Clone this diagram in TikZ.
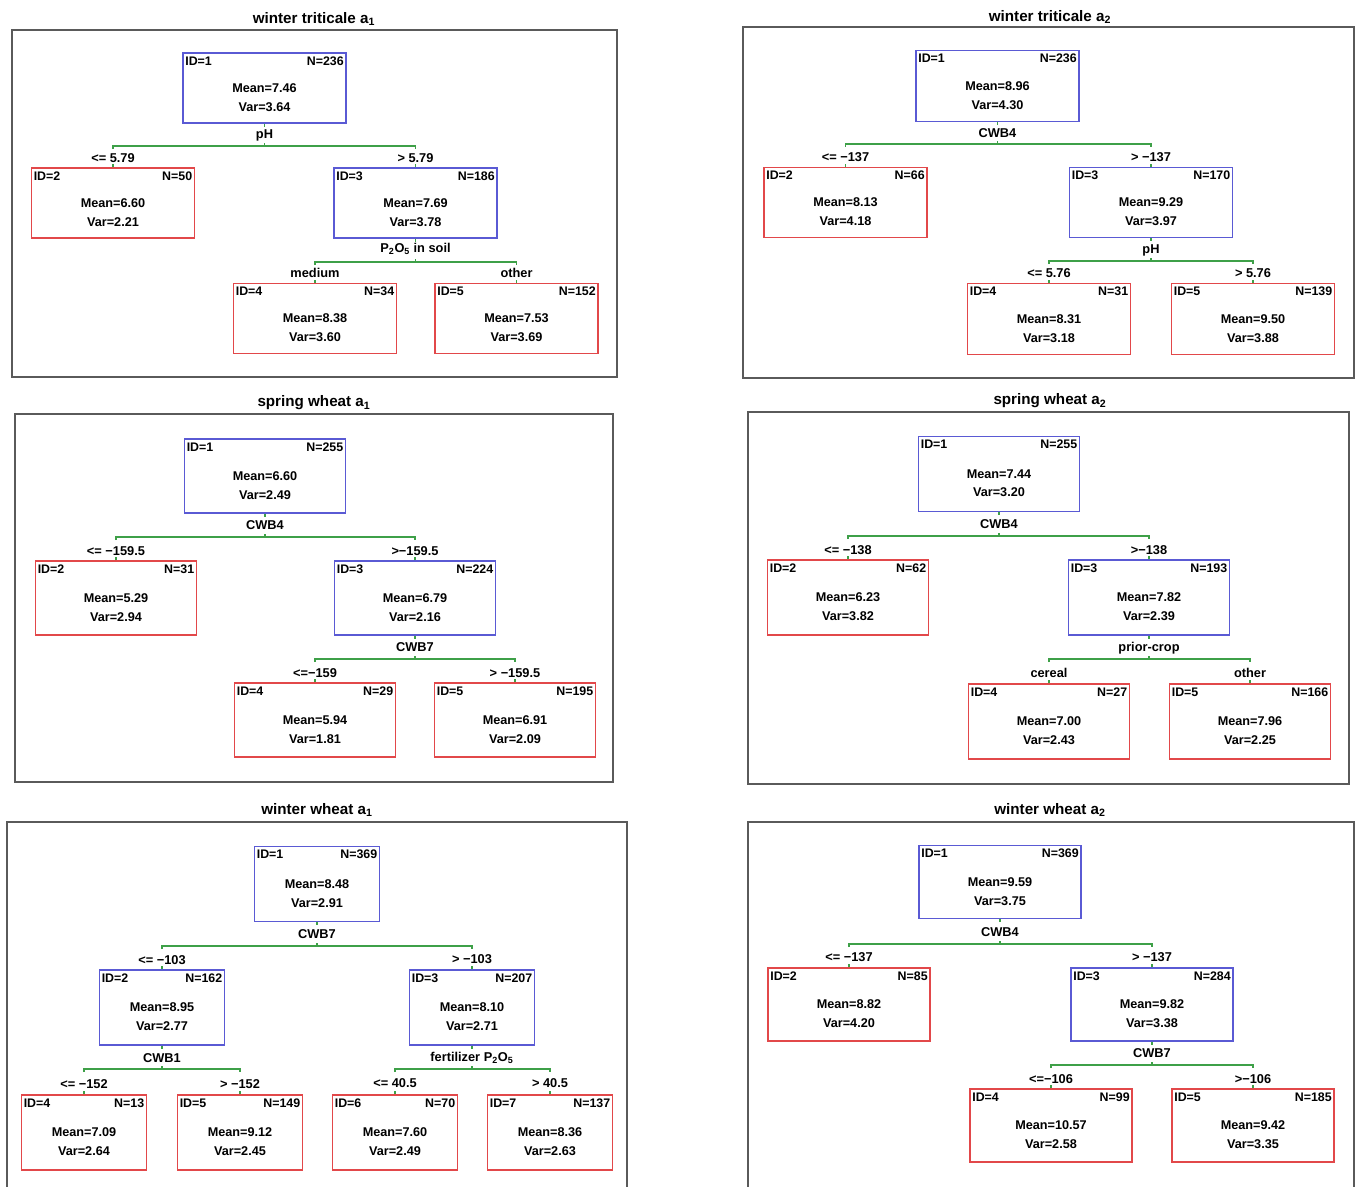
\documentclass[tikz,border=0pt]{standalone}
\usepackage{fontspec}
\setmainfont{Liberation Sans}

\definecolor{splitblue}{RGB}{90,90,212}
\definecolor{leafred}{RGB}{226,72,74}
\definecolor{edgegreen}{RGB}{62,160,72}
\definecolor{framegray}{RGB}{90,90,90}

\begin{document}
\begin{tikzpicture}[
  x=0.75pt, y=-0.75pt,
  box/.style={draw, line width=0.95pt, inner sep=0pt},
  splitbox/.style={box, draw=splitblue},
  leafbox/.style={box, draw=leafred},
  idl/.style={anchor=north west, inner xsep=2pt, inner ysep=3pt, font=\fontsize{9.3}{10}\selectfont\bfseries},
  nl/.style={idl, anchor=north east},
  stat/.style={anchor=center, align=center, inner sep=0pt, yshift=-7pt, font=\fontsize{9.5}{14}\selectfont\bfseries},
  tn/.style n args={4}{label={[idl]north west:ID=#1}, label={[nl]north east:N=#2}, label={[stat]center:{Mean=#3\\Var=#4}}},
  var/.style={inner sep=1pt, font=\fontsize{9.6}{10}\selectfont\bfseries},
  cond/.style={var},
  ttl/.style={inner sep=1pt, font=\fontsize{11.4}{12}\selectfont\bfseries},
  frame/.style={draw=framegray, line width=1.1pt},
  edge/.style={draw=edgegreen, line width=0.8pt}
]
\useasboundingbox (0,0) rectangle (1356,1186);

% winter triticale a1
\begin{scope}[box/.append style={minimum width=122.25pt, minimum height=52.5pt}]
\node[ttl] (ta1-t) at (314,19) {winter triticale a\textsubscript{1}};
\draw[frame] (12,30) rectangle (617,377);
\node[splitbox, tn={1}{236}{7.46}{3.64}] (ta1-1) at (264.5,88) {};
\node[leafbox, tn={2}{50}{6.60}{2.21}] (ta1-2) at (113,203) {};
\node[splitbox, tn={3}{186}{7.69}{3.78}] (ta1-3) at (415.5,203) {};
\node[leafbox, tn={4}{34}{8.38}{3.60}] (ta1-4) at (315,318.5) {};
\node[leafbox, tn={5}{152}{7.53}{3.69}] (ta1-5) at (516.5,318.5) {};
\node[var] (ta1-v1) at (264.5,135) {pH};
\node[var] (ta1-v3) at (415.5,249) {P\textsubscript{2}O\textsubscript{5} in soil};
\coordinate (ta1-1-bar) at (264.5,146);
\coordinate (ta1-3-bar) at (415.5,262);
\node[cond] (ta1-c2) at (113,158) {<= 5.79};
\node[cond] (ta1-c3) at (415.5,158) {> 5.79};
\node[cond] (ta1-c4) at (315,273) {medium};
\node[cond] (ta1-c5) at (516.5,273) {other};
\end{scope}

% winter triticale a2
\begin{scope}[box/.append style={minimum width=122.25pt, minimum height=53pt}]
\node[ttl] (ta2-t) at (1050,17) {winter triticale a\textsubscript{2}};
\draw[frame] (743,27) rectangle (1354,378);
\node[splitbox, tn={1}{236}{8.96}{4.30}] (ta2-1) at (997.5,86) {};
\node[leafbox, tn={2}{66}{8.13}{4.18}] (ta2-2) at (845.5,202.5) {};
\node[splitbox, tn={3}{170}{9.29}{3.97}] (ta2-3) at (1151,202.5) {};
\node[leafbox, tn={4}{31}{8.31}{3.18}] (ta2-4) at (1049,319) {};
\node[leafbox, tn={5}{139}{9.50}{3.88}] (ta2-5) at (1253,319) {};
\node[var] (ta2-v1) at (997.5,133) {CWB4};
\node[var] (ta2-v3) at (1151,250) {pH};
\coordinate (ta2-1-bar) at (997.5,144);
\coordinate (ta2-3-bar) at (1151,261);
\node[cond] (ta2-c2) at (845.5,157) {<= −137};
\node[cond] (ta2-c3) at (1151,157) {> −137};
\node[cond] (ta2-c4) at (1049,273) {<= 5.76};
\node[cond] (ta2-c5) at (1253,273) {> 5.76};
\end{scope}

% spring wheat a1
\begin{scope}[box/.append style={minimum width=120.75pt, minimum height=55.5pt}]
\node[ttl] (sa1-t) at (314,403) {spring wheat a\textsubscript{1}};
\draw[frame] (15,414) rectangle (613,782);
\node[splitbox, tn={1}{255}{6.60}{2.49}] (sa1-1) at (265,476) {};
\node[leafbox, tn={2}{31}{5.29}{2.94}] (sa1-2) at (116,598) {};
\node[splitbox, tn={3}{224}{6.79}{2.16}] (sa1-3) at (415,598) {};
\node[leafbox, tn={4}{29}{5.94}{1.81}] (sa1-4) at (315,720) {};
\node[leafbox, tn={5}{195}{6.91}{2.09}] (sa1-5) at (515,720) {};
\node[var] (sa1-v1) at (265,525) {CWB4};
\node[var] (sa1-v3) at (415,647) {CWB7};
\coordinate (sa1-1-bar) at (265,537);
\coordinate (sa1-3-bar) at (415,659);
\node[cond] (sa1-c2) at (116,551) {<= −159.5};
\node[cond] (sa1-c3) at (415,551) {>−159.5};
\node[cond] (sa1-c4) at (315,673) {<=−159};
\node[cond] (sa1-c5) at (515,673) {> −159.5};
\end{scope}

% spring wheat a2
\begin{scope}[box/.append style={minimum width=120.75pt, minimum height=56.25pt}]
\node[ttl] (sa2-t) at (1050,401) {spring wheat a\textsubscript{2}};
\draw[frame] (748,412) rectangle (1349,784);
\node[splitbox, tn={1}{255}{7.44}{3.20}] (sa2-1) at (999,474) {};
\node[leafbox, tn={2}{62}{6.23}{3.82}] (sa2-2) at (848,597.5) {};
\node[splitbox, tn={3}{193}{7.82}{2.39}] (sa2-3) at (1149,597.5) {};
\node[leafbox, tn={4}{27}{7.00}{2.43}] (sa2-4) at (1049,721.5) {};
\node[leafbox, tn={5}{166}{7.96}{2.25}] (sa2-5) at (1250,721.5) {};
\node[var] (sa2-v1) at (999,524) {CWB4};
\node[var] (sa2-v3) at (1149,648) {prior-crop};
\coordinate (sa2-1-bar) at (999,536);
\coordinate (sa2-3-bar) at (1149,659);
\node[cond] (sa2-c2) at (848,550) {<= −138};
\node[cond] (sa2-c3) at (1149,550) {>−138};
\node[cond] (sa2-c4) at (1049,673) {cereal};
\node[cond] (sa2-c5) at (1250,673) {other};
\end{scope}

% winter wheat a1
\begin{scope}[box/.append style={minimum width=93.75pt, minimum height=56.25pt}]
\node[ttl] (wa1-t) at (317,810) {winter wheat a\textsubscript{1}};
\draw[frame] (7,1192) -- (7,822) -- (627,822) -- (627,1192);
\node[splitbox, tn={1}{369}{8.48}{2.91}] (wa1-1) at (317,884) {};
\node[splitbox, tn={2}{162}{8.95}{2.77}] (wa1-2) at (162,1007.5) {};
\node[splitbox, tn={3}{207}{8.10}{2.71}] (wa1-3) at (472,1007.5) {};
\node[leafbox, tn={4}{13}{7.09}{2.64}] (wa1-4) at (84,1132.5) {};
\node[leafbox, tn={5}{149}{9.12}{2.45}] (wa1-5) at (240,1132.5) {};
\node[leafbox, tn={6}{70}{7.60}{2.49}] (wa1-6) at (395,1132.5) {};
\node[leafbox, tn={7}{137}{8.36}{2.63}] (wa1-7) at (550,1132.5) {};
\node[var] (wa1-v1) at (317,934) {CWB7};
\node[var] (wa1-v2) at (162,1058) {CWB1};
\node[var] (wa1-v3) at (472,1058) {fertilizer P\textsubscript{2}O\textsubscript{5}};
\coordinate (wa1-1-bar) at (317,946);
\coordinate (wa1-2-bar) at (162,1069);
\coordinate (wa1-3-bar) at (472,1069);
\node[cond] (wa1-c2) at (162,960) {<= −103};
\node[cond] (wa1-c3) at (472,959) {> −103};
\node[cond] (wa1-c4) at (84,1084) {<= −152};
\node[cond] (wa1-c5) at (240,1084) {> −152};
\node[cond] (wa1-c6) at (395,1083) {<= 40.5};
\node[cond] (wa1-c7) at (550,1083) {> 40.5};
\end{scope}

% winter wheat a2
\begin{scope}[box/.append style={minimum width=121.5pt, minimum height=54.75pt}]
\node[ttl] (wa2-t) at (1050,810) {winter wheat a\textsubscript{2}};
\draw[frame] (748,1192) -- (748,822) -- (1354,822) -- (1354,1192);
\node[splitbox, tn={1}{369}{9.59}{3.75}] (wa2-1) at (1000,882) {};
\node[leafbox, tn={2}{85}{8.82}{4.20}] (wa2-2) at (849,1004.5) {};
\node[splitbox, tn={3}{284}{9.82}{3.38}] (wa2-3) at (1152,1004.5) {};
\node[leafbox, tn={4}{99}{10.57}{2.58}] (wa2-4) at (1051,1125.5) {};
\node[leafbox, tn={5}{185}{9.42}{3.35}] (wa2-5) at (1253,1125.5) {};
\node[var] (wa2-v1) at (1000,932) {CWB4};
\node[var] (wa2-v3) at (1152,1053) {CWB7};
\coordinate (wa2-1-bar) at (1000,944);
\coordinate (wa2-3-bar) at (1152,1065);
\node[cond] (wa2-c2) at (849,957) {<= −137};
\node[cond] (wa2-c3) at (1152,957) {> −137};
\node[cond] (wa2-c4) at (1051,1079) {<=−106};
\node[cond] (wa2-c5) at (1253,1079) {>−106};
\end{scope}

% split connectors
\foreach \p/\l/\r in {ta1-1/ta1-2/ta1-3, ta1-3/ta1-4/ta1-5,
    ta2-1/ta2-2/ta2-3, ta2-3/ta2-4/ta2-5,
    sa1-1/sa1-2/sa1-3, sa1-3/sa1-4/sa1-5,
    sa2-1/sa2-2/sa2-3, sa2-3/sa2-4/sa2-5,
    wa1-1/wa1-2/wa1-3, wa1-2/wa1-4/wa1-5, wa1-3/wa1-6/wa1-7,
    wa2-1/wa2-2/wa2-3, wa2-3/wa2-4/wa2-5}{
  \draw[edge] (\p.south) -- ++(0,3);
  \draw[edge] (\p-bar) -- ++(0,-3);
  \draw[edge] (\l.north |- \p-bar) ++(0,3) -- ++(0,-3) -- (\r.north |- \p-bar) -- ++(0,3);
  \draw[edge] (\l.north) -- ++(0,-3);
  \draw[edge] (\r.north) -- ++(0,-3);
}
\end{tikzpicture}
\end{document}
